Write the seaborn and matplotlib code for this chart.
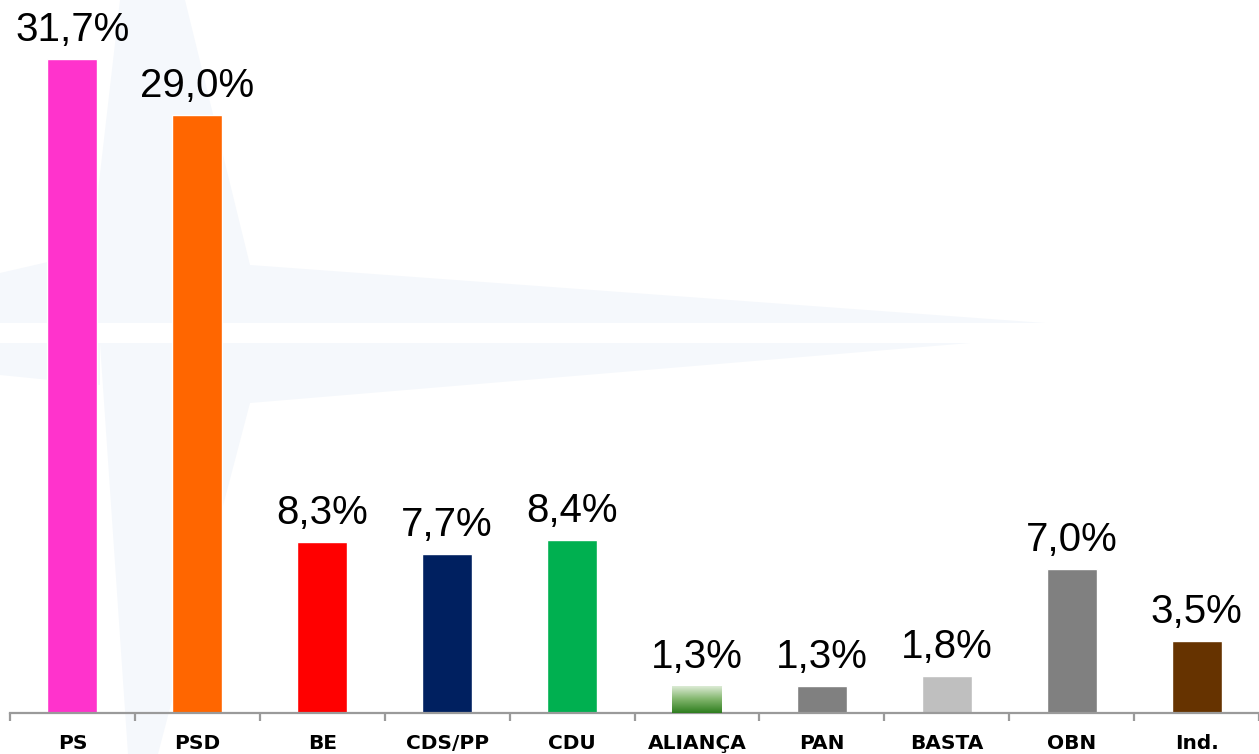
import numpy as np
import pandas as pd
import matplotlib
matplotlib.use("Agg")
import matplotlib.pyplot as plt
from matplotlib.patches import Polygon
from matplotlib.colors import LinearSegmentedColormap
import seaborn as sns

parties = ["PS", "PSD", "BE", "CDS/PP", "CDU", "ALIANÇA", "PAN", "BASTA", "OBN", "Ind."]
values = [31.7, 29.0, 8.3, 7.7, 8.4, 1.3, 1.3, 1.8, 7.0, 3.5]
colors = ["#ff33cc", "#ff6600", "#ff0000", "#002060", "#00b050",
          "#4c9a3a", "#808080", "#bfbfbf", "#808080", "#663300"]
labels = [f"{v:.1f}%".replace(".", ",") for v in values]

df = pd.DataFrame({"party": parties, "value": values})

sns.set_style("white")
W, H = 1259, 754
fig = plt.figure(figsize=(W / 100, H / 100), dpi=100)
fig.patch.set_facecolor("white")

# faint watermark (decorative background)
wm = "#f5f8fc"
shapes = [
    [(160, 323), (250, 265), (1045, 323)],
    [(160, 343), (970, 343), (250, 403)],
    [(120, 0), (185, 0), (250, 265), (250, 323), (100, 323), (97, 200)],
    [(100, 343), (250, 343), (250, 403), (158, 754), (128, 754)],
    [(0, 273), (100, 250), (100, 323), (0, 323)],
    [(0, 343), (100, 343), (100, 385), (0, 375)],
]
for s in shapes:
    pts = [(x / W, 1 - y / H) for x, y in s]
    fig.add_artist(Polygon(pts, closed=True, transform=fig.transFigure,
                           facecolor=wm, edgecolor="none", zorder=0))

ax = fig.add_axes([10 / W, (H - 713) / H, 1 - 10 / W, 713 / H])
ax.set_facecolor("none")

sns.barplot(data=df, x="party", y="value", hue="party", palette=colors,
            legend=False, width=0.4, saturation=1, ax=ax, zorder=2)

# gradient for ALIANÇA bar
idx = parties.index("ALIANÇA")
bar = ax.patches[idx]
bx, by = bar.get_x(), bar.get_y()
bw, bh = bar.get_width(), bar.get_height()
cmap = LinearSegmentedColormap.from_list("g", ["#2e7d1e", "#7fb46a", "#dcebd5"])
grad = np.linspace(0, 1, 256).reshape(-1, 1)
im = ax.imshow(grad, extent=[bx, bx + bw, by, by + bh], origin="lower",
               cmap=cmap, aspect="auto", zorder=3)
im.set_clip_path(bar)
ax.set_xlim(-0.5, len(parties) - 0.5)
ax.set_ylim(0, 713 / 20.63)

for i, (v, lab) in enumerate(zip(values, labels)):
    ax.annotate(lab, (i, v), xytext=(0, 7), textcoords="offset points",
                ha="center", va="bottom", fontsize=29,
                family="Liberation Sans", color="black")

for sp in ["top", "right", "left"]:
    ax.spines[sp].set_visible(False)
ax.spines["bottom"].set_color("#9a9a9a")
ax.spines["bottom"].set_linewidth(1.6)

ax.set_yticks([])
ax.set_xlabel("")
ax.set_ylabel("")
ax.set_xticks(range(len(parties)))
ax.set_xticklabels(parties, fontsize=14.5, fontweight="bold",
                   family="DejaVu Sans", color="black")
ax.set_xticks(np.arange(-0.5, len(parties)), minor=True)
ax.tick_params(axis="x", which="major", bottom=True, length=0, pad=15,
               labelcolor="black")
ax.tick_params(axis="x", which="minor", bottom=True, length=6, width=1.6,
               color="#9a9a9a", direction="out")

fig.savefig("out.png", dpi=100, facecolor="white")
